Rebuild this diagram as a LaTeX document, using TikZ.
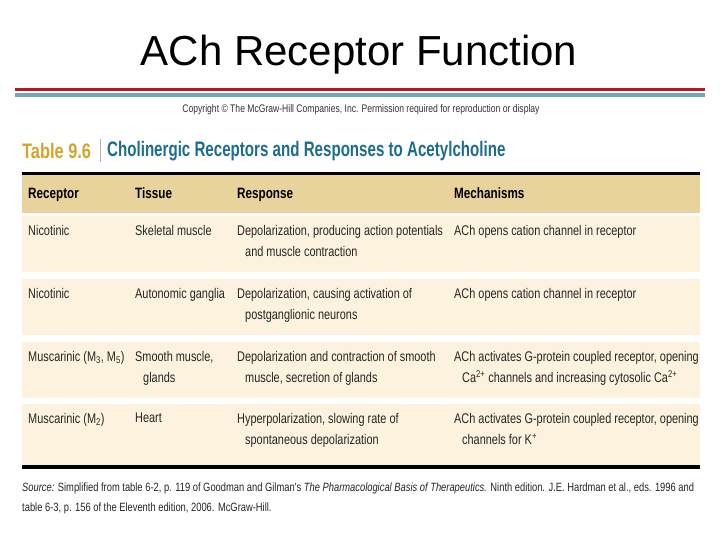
\documentclass[tikz,border=0pt]{standalone}
\usepackage{fontspec}
\setmainfont{Liberation Sans}
\newfontfamily\narrow[FakeStretch=0.78]{Liberation Sans}
\newfontfamily\ttlfont[FakeStretch=0.72]{Liberation Sans}
\definecolor{hred}{HTML}{C0141C}
\definecolor{hteal}{HTML}{6FA9B8}
\definecolor{gold}{HTML}{D4A52A}
\definecolor{tblue}{HTML}{1B6E8C}
\definecolor{tan}{HTML}{E8D39C}
\definecolor{cream}{HTML}{FCF2DE}
\newcommand{\sups}[1]{\textsuperscript{#1}}
\tikzset{cell/.style={anchor=north west,inner sep=0pt,align=left,font=\narrow\fontsize{14}{21}\selectfont,text=black!85},
 hcell/.style={anchor=base west,inner sep=0pt,font=\narrow\bfseries\fontsize{15}{18}\selectfont}}
\begin{document}
\begin{tikzpicture}[x=1pt,y=-1pt]
\useasboundingbox[fill=white] (0,0) rectangle (720,540);
\node[font=\fontsize{42}{44}\selectfont] (title) at (359,55) {ACh Receptor Function};
\fill[hred] (15,88) rectangle (705,91.5);
\fill[hteal] (15,93.5) rectangle (705,97);
\node[font=\narrow\fontsize{11}{12}\selectfont,text=black!80] (copy) at (361,110) {Copyright © The McGraw-Hill Companies, Inc. Permission required for reproduction or display};
\node[anchor=west,inner sep=0pt,font=\narrow\bfseries\fontsize{21}{24}\selectfont,text=gold] (tnum) at (22,151) {Table 9.6};
\draw[black!30] (100,139) -- (100,162);
\node[anchor=west,inner sep=0pt,font=\ttlfont\bfseries\fontsize{21}{24}\selectfont,text=tblue] (ttl) at (107,151) {Cholinergic Receptors and Responses to Acetylcholine};
\fill[black] (22,172) rectangle (700,175);
\fill[tan] (22,175) rectangle (700,213);
\fill[cream] (22,216) rectangle (700,272);
\fill[cream] (22,279) rectangle (700,335);
\fill[cream] (22,342) rectangle (700,398);
\fill[cream] (22,404) rectangle (700,465);
\fill[black] (22,465) rectangle (700,469);
\node[hcell] (h1) at (28,199) {Receptor};
\node[hcell] (h2) at (135,199) {Tissue};
\node[hcell] (h3) at (237,199) {Response};
\node[hcell] (h4) at (454,199) {Mechanisms};
% row 1
\node[cell] (a1) at (28,225) {Nicotinic};
\node[cell] (b1) at (135,225) {Skeletal muscle};
\node[cell] (c1) at (237,225) {Depolarization, producing action potentials\\\hspace*{8pt}and muscle contraction};
\node[cell] (d1) at (454,225) {ACh opens cation channel in receptor};
% row 2
\node[cell] (a2) at (28,288) {Nicotinic};
\node[cell] (b2) at (135,288) {Autonomic ganglia};
\node[cell] (c2) at (237,288) {Depolarization, causing activation of\\\hspace*{8pt}postganglionic neurons};
\node[cell] (d2) at (454,288) {ACh opens cation channel in receptor};
% row 3
\node[cell] (a3) at (28,351) {Muscarinic (M\textsubscript{3}, M\textsubscript{5})};
\node[cell] (b3) at (135,351) {Smooth muscle,\\\hspace*{8pt}glands};
\node[cell] (c3) at (237,351) {Depolarization and contraction of smooth\\\hspace*{8pt}muscle, secretion of glands};
\node[cell] (d3) at (454,351) {ACh activates G-protein coupled receptor, opening\\\hspace*{8pt}Ca\sups{2+} channels and increasing cytosolic Ca\sups{2+}};
% row 4
\node[cell] (a4) at (28,413) {Muscarinic (M\textsubscript{2})};
\node[cell] (b4) at (135,413) {Heart};
\node[cell] (c4) at (237,413) {Hyperpolarization, slowing rate of\\\hspace*{8pt}spontaneous depolarization};
\node[cell] (d4) at (454,413) {ACh activates G-protein coupled receptor, opening\\\hspace*{8pt}channels for K\sups{+}};
\node[anchor=north west,inner sep=0pt,align=left,font=\narrow\fontsize{12}{20}\selectfont,text=black!85] (src) at (22,483)
 {\textit{Source:} Simplified from table 6-2, p. 119 of Goodman and Gilman's \textit{The Pharmacological Basis of Therapeutics.} Ninth edition. J.E. Hardman et al., eds. 1996 and\\table 6-3, p. 156 of the Eleventh edition, 2006. McGraw-Hill.};
\end{tikzpicture}
\end{document}
